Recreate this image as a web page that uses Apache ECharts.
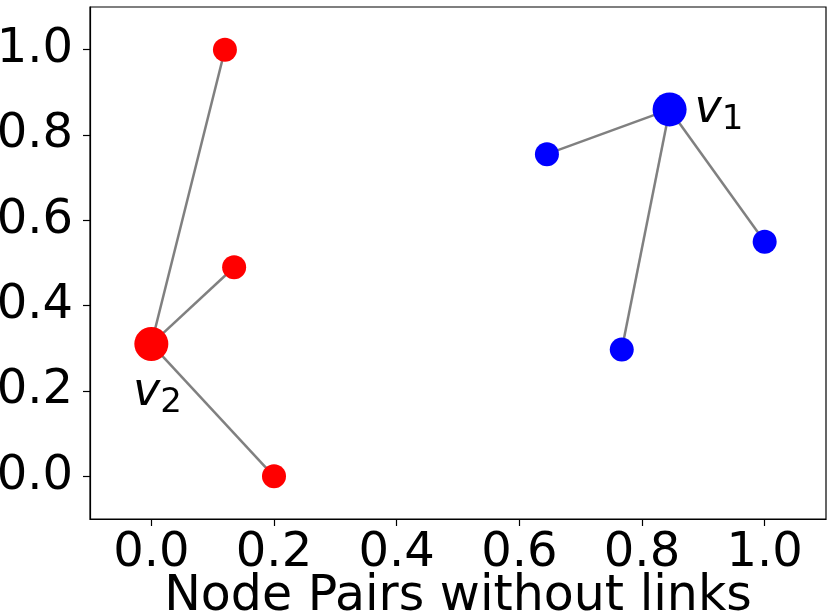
<!DOCTYPE html>
<html>
<head>
<meta charset="utf-8">
<script src="https://cdn.jsdelivr.net/npm/echarts@6/dist/echarts.min.js"></script>
<style>
  html, body { margin: 0; padding: 0; background: #fff; }
  #chart { width: 831px; height: 616px; }
</style>
</head>
<body>
<div id="chart"></div>
<script>
// hub nodes
const hubV1 = [0.845, 0.86]
const hubV2 = [0.0, 0.31]

// leaves connected to v2 (red) and v1 (blue)
const redX = [0.12, 0.135, 0.2]
const redY = [1.0, 0.49, 0.0]
const blueX = [0.645, 1.0, 0.767]
const blueY = [0.755, 0.55, 0.297]

const tickValues = [0, 0.2, 0.4, 0.6, 0.8, 1.0]

const chart = echarts.init(document.getElementById('chart'))

// one small line series per edge
const edgeSeries = []
redX.forEach((x, i) => {
  edgeSeries.push({ type: 'line', data: [hubV2, [x, redY[i]]] })
})
blueX.forEach((x, i) => {
  edgeSeries.push({ type: 'line', data: [hubV1, [x, blueY[i]]] })
})
edgeSeries.forEach(s => {
  s.symbol = 'none'
  s.silent = true
  s.lineStyle = { color: '#808080', width: 2.5 }
  s.z = 1
})

const subLabel = (pos, dist, off) => ({
  show: true, position: pos, distance: dist, offset: off,
  rich: {
    v: { fontFamily: 'DejaVu Sans', fontStyle: 'italic', fontSize: 46, color: '#000' },
    s: { fontFamily: 'DejaVu Sans', fontSize: 34, color: '#000', padding: [20, 0, 0, 0] }
  }
})

const v2Label = subLabel('bottom', 5, [6, 0])
v2Label.formatter = '{v|v}{s|2}'
const v1Label = subLabel('right', 8, [0, 1])
v1Label.formatter = '{v|v}{s|1}'

const option = {
  animation: false,
  grid: {
    left: 90, right: 5, top: 7, bottom: 97,
    outerBoundsMode: 'none',
    show: true, borderColor: '#000', borderWidth: 1.2
  },
  xAxis: {
    type: 'value', min: -0.1, max: 1.1,
    splitLine: { show: false },
    axisLine: { show: true, onZero: false, lineStyle: { color: '#000', width: 1.2 } },
    axisTick: { show: true, length: 7, customValues: tickValues, lineStyle: { color: '#000', width: 1.2 } },
    axisLabel: {
      customValues: tickValues, margin: 11,
      fontFamily: 'DejaVu Sans', fontSize: 48, color: '#000',
      formatter: v => v.toFixed(1)
    },
    name: 'Node Pairs without links',
    nameLocation: 'middle', nameGap: 54, nameMoveOverlap: false,
    nameTextStyle: { fontFamily: 'DejaVu Sans', fontSize: 49, color: '#000' }
  },
  yAxis: {
    type: 'value', min: -0.1, max: 1.1,
    splitLine: { show: false },
    axisLine: { show: true, onZero: false, lineStyle: { color: '#000', width: 1.2 } },
    axisTick: { show: true, length: 7, customValues: tickValues, lineStyle: { color: '#000', width: 1.2 } },
    axisLabel: {
      customValues: tickValues, margin: 17,
      fontFamily: 'DejaVu Sans', fontSize: 48, color: '#000',
      formatter: v => v.toFixed(1)
    }
  },
  series: edgeSeries.concat([
    {
      type: 'scatter', z: 3, symbolSize: 24,
      itemStyle: { color: '#ff0000', opacity: 1 },
      data: redX.map((x, i) => [x, redY[i]])
    },
    {
      type: 'scatter', z: 3, symbolSize: 24,
      itemStyle: { color: '#0000ff', opacity: 1 },
      data: blueX.map((x, i) => [x, blueY[i]])
    },
    {
      type: 'scatter', z: 3, symbolSize: 34,
      itemStyle: { color: '#ff0000', opacity: 1 },
      data: [hubV2], label: v2Label
    },
    {
      type: 'scatter', z: 3, symbolSize: 34,
      itemStyle: { color: '#0000ff', opacity: 1 },
      data: [hubV1], label: v1Label
    }
  ])
}

chart.setOption(option)
</script>
</body>
</html>
